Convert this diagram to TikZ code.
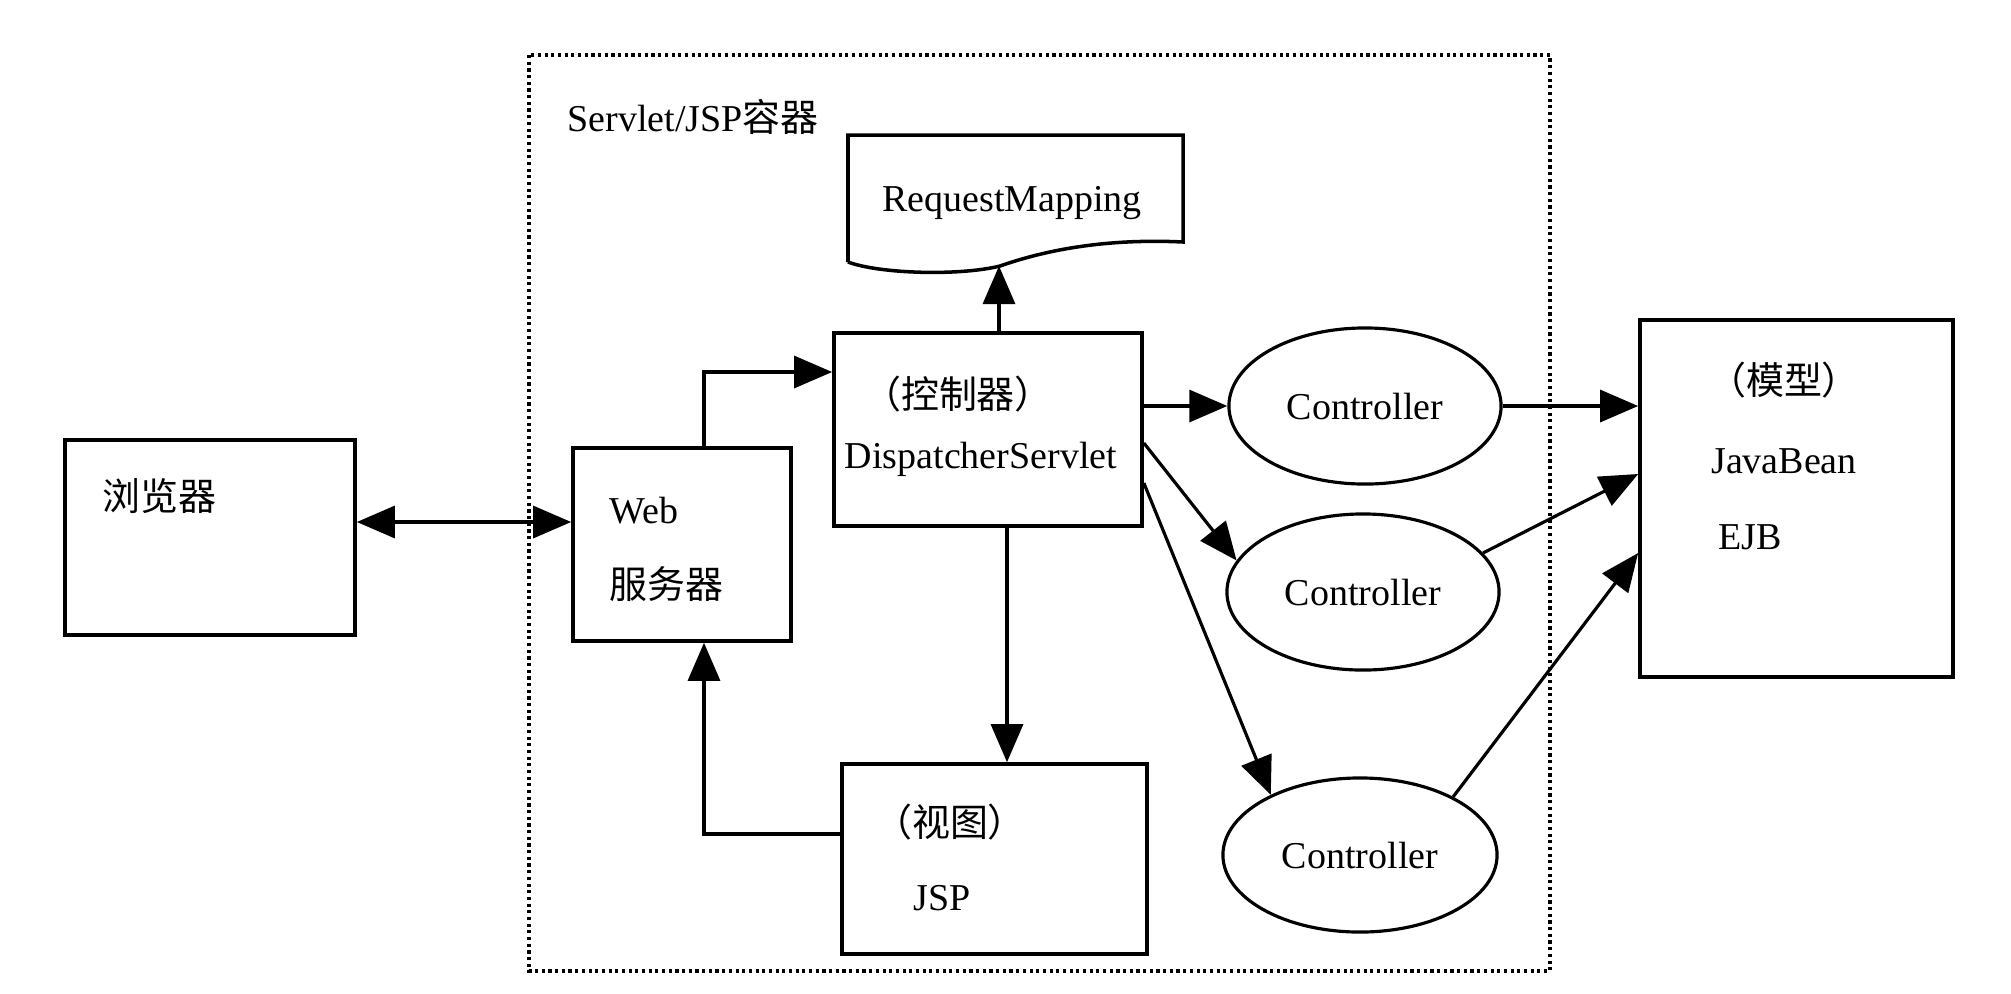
\documentclass[tikz,border=0pt]{standalone}
\usepackage{fontspec}
\setmainfont{Liberation Serif}
\newfontfamily\cjk{Noto Sans CJK SC}
\usetikzlibrary{arrows.meta,shapes.geometric}

\begin{document}
\begin{tikzpicture}[>={Triangle[length=3.8mm,width=3.2mm]},x=0.01cm,y=-0.01cm,font=\fontsize{10.8}{13}\selectfont]
\tikzstyle{box}=[draw,line width=1pt,inner sep=0pt]%
\tikzstyle{ctrl}=[draw,ellipse,line width=0.9pt,inner sep=0pt,minimum width=2.72cm,minimum height=1.56cm]%
\tikzstyle{lbl}=[anchor=west,inner sep=0pt]%
\tikzstyle{conn}=[line width=0.9pt]%
\useasboundingbox (0,0) rectangle (2011,993);
% container
\draw[line width=0.9pt,densely dotted] (529,55) rectangle (1550,971);
\node[lbl] (sjclabel) at (567,117) {Servlet/JSP{\cjk 容器}};
% request mapping
\draw[line width=1pt] (848,262) -- (848,135) -- (1183,135) -- (1183,242) .. controls (1100,238) and (1040,252) .. (1000,266) .. controls (960,276) and (880,274) .. (848,262);
\node (rmtext) at (1012,203) {RequestMapping};
\coordinate (rmbot) at (999,266);
% boxes
\node[box,minimum width=2.9cm,minimum height=1.95cm] (browser) at (210,537.5) {};
\node[box,minimum width=2.18cm,minimum height=1.93cm] (web) at (682,544.5) {};
\node[box,minimum width=3.08cm,minimum height=1.93cm] (disp) at (988,429.5) {};
\node[box,minimum width=3.05cm,minimum height=1.9cm] (jsp) at (994.5,859) {};
\node[box,minimum width=3.13cm,minimum height=3.57cm] (model) at (1796.5,498.5) {};
\node[ctrl] (c1) at (1365,406) {Controller};
\node[ctrl] (c2) at (1363,592) {Controller};
\node[ctrl,minimum width=2.74cm,minimum height=1.54cm] (c3) at (1360,855) {Controller};
% labels
\node[lbl] (browserlabel) at (102,496) {\cjk 浏览器};
\node[lbl] (weblabel) at (609,511) {Web};
\node[lbl] (serverlabel) at (609,584) {\cjk 服务器};
\node (ctrllabel) at (958,394) {\cjk （控制器）};
\node (displabel) at (981,459) {DispatcherServlet};
\node (viewlabel) at (950,822) {\cjk （视图）};
\node (jsplabel) at (942,898) {JSP};
\node (modellabel) at (1784,380) {\cjk （模型）};
\node (beanlabel) at (1784,461) {JavaBean};
\node (ejblabel) at (1750,537) {EJB};
% arrows
\draw[conn,<->] (browser.east |- 0,522) -- (web.west |- 0,522);
\draw[conn,->] (web.north -| 704,0) |- (disp.west |- 0,372);
\draw[conn,->] (disp.north -| rmbot) -- (rmbot);
\draw[conn,->] (disp.south -| 1007,0) -- (jsp.north -| 1007,0);
\draw[conn,->] (jsp.west |- 0,834) -| (web.south -| 704,0);
\draw[conn,->] (disp.east |- c1.west) -- (c1.west);
\draw[conn,->] (disp.east |- 0,443) -- (c2.166);
\draw[conn,->] (disp.east |- 0,483) -- (c3.146);
\draw[conn,->] (c1.east) -- (model.west |- c1.east);
\draw[conn,->] (c2.18) -- (model.west |- 0,474);
\draw[conn,->] (c3.32) -- (model.west |- 0,553);
\end{tikzpicture}
\end{document}
